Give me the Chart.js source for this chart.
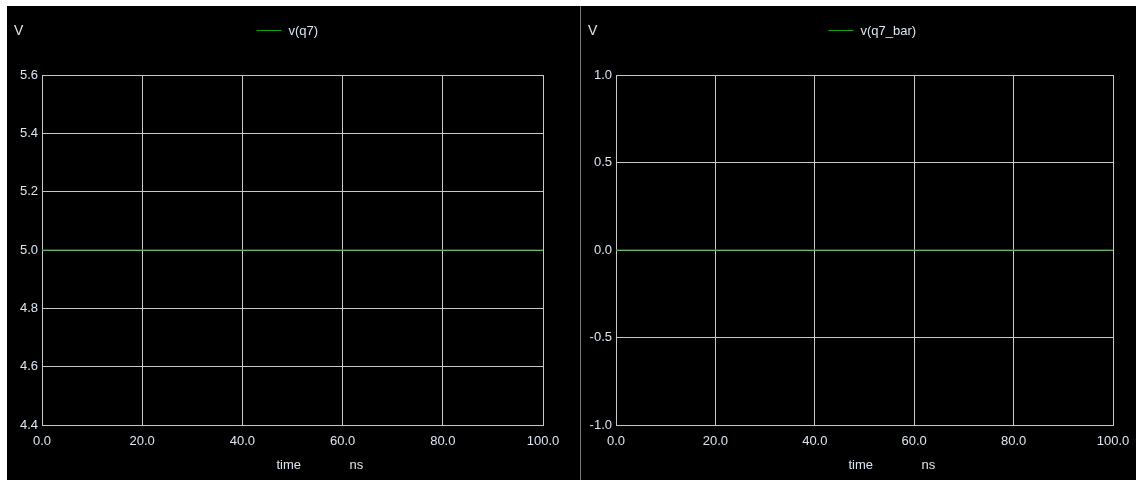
<!DOCTYPE html>
<html>
<head>
<meta charset="utf-8">
<script src="https://cdn.jsdelivr.net/npm/chart.js@4.4.1/dist/chart.umd.min.js"></script>
<style>
  html, body { margin: 0; padding: 0; background: #fff; }
  #wrap { position: absolute; left: 7px; top: 6px; width: 1129px; height: 474px; background: #000; }
  #divider { position: absolute; left: 573px; top: 0; width: 1px; height: 474px; background: #777; }
  .panel { position: absolute; top: 0; height: 474px; }
  #p1 { left: 0; width: 572px; }
  #p2 { left: 574px; width: 555px; }
</style>
</head>
<body>
<div id="wrap">
  <div class="panel" id="p1"><canvas id="c1"></canvas></div>
  <div id="divider"></div>
  <div class="panel" id="p2"><canvas id="c2"></canvas></div>
</div>
<script>
// time axis (ns) and node voltages
const timeNs = [0, 20, 40, 60, 80, 100];
const vQ7 = [5, 5, 5, 5, 5, 5];
const vQ7Bar = [0, 0, 0, 0, 0, 0];

const xTicks = [0, 20, 40, 60, 80, 100];
const yTicksQ7 = [4.4, 4.6, 4.8, 5.0, 5.2, 5.4, 5.6];
const yTicksQ7Bar = [-1.0, -0.5, 0.0, 0.5, 1.0];

const GRID = '#c8c8c8';
const TEXT = '#dce6f0';
const GREEN = '#16a016';
const FONT = 'Liberation Sans, Arial, sans-serif';

// draws the "V" unit, the legend line and "time ... ns" like the simulator does
const decorations = {
  id: 'decorations',
  afterDraw(chart) {
    const ctx = chart.ctx;
    const area = chart.chartArea;
    const mid = (area.left + area.right) / 2;
    const ds = chart.data.datasets[0];
    ctx.save();
    ctx.fillStyle = TEXT;
    ctx.font = '14px ' + FONT;
    ctx.textBaseline = 'middle';
    ctx.textAlign = 'left';
    ctx.fillText('V', 7, 25);

    ctx.font = '13px ' + FONT;
    ctx.strokeStyle = ds.borderColor;
    ctx.lineWidth = 1;
    ctx.beginPath();
    ctx.moveTo(mid - 36, 24.5);
    ctx.lineTo(mid - 11, 24.5);
    ctx.stroke();
    ctx.fillText(ds.label, mid - 4, 25);

    ctx.fillText('time', mid - 16, 459);
    ctx.fillText('ns', mid + 57, 459);
    ctx.restore();
  }
};

function makeChart(id, label, values, yTicks, topPad, rightPad) {
  const points = timeNs.map((t, i) => ({ x: t, y: values[i] }));
  return new Chart(document.getElementById(id), {
    type: 'line',
    data: {
      datasets: [{
        label: label,
        data: points,
        borderColor: GREEN,
        borderWidth: 1.2,
        pointRadius: 0,
        tension: 0
      }]
    },
    options: {
      responsive: true,
      maintainAspectRatio: false,
      animation: false,
      layout: { padding: { top: topPad, right: rightPad, left: 0, bottom: 0 } },
      plugins: { legend: { display: false }, tooltip: { enabled: false } },
      scales: {
        x: {
          type: 'linear',
          min: 0,
          max: 100,
          // let the end labels overhang, the plot box is set by layout padding
          afterFit: s => { s.height = 55; s.paddingLeft = 0; s.paddingRight = 0; },
          afterBuildTicks: s => { s.ticks = xTicks.map(v => ({ value: v })); },
          grid: { color: GRID, lineWidth: 1, drawTicks: false },
          border: { display: true, color: GRID },
          ticks: {
            color: TEXT,
            font: { family: FONT, size: 13 },
            padding: 9,
            maxRotation: 0,
            callback: v => v.toFixed(1)
          }
        },
        y: {
          type: 'linear',
          min: yTicks[0],
          max: yTicks[yTicks.length - 1],
          afterFit: s => { s.width = 35; s.paddingTop = 0; s.paddingBottom = 0; },
          afterBuildTicks: s => { s.ticks = yTicks.map(v => ({ value: v })); },
          grid: { color: GRID, lineWidth: 1, drawTicks: false },
          border: { display: true, color: GRID },
          ticks: {
            color: TEXT,
            font: { family: FONT, size: 13 },
            padding: 4,
            callback: v => v.toFixed(1)
          }
        }
      }
    },
    plugins: [decorations]
  });
}

makeChart('c1', 'v(q7)', vQ7, yTicksQ7, 69, 36);
makeChart('c2', 'v(q7_bar)', vQ7Bar, yTicksQ7Bar, 69, 23);
</script>
</body>
</html>
